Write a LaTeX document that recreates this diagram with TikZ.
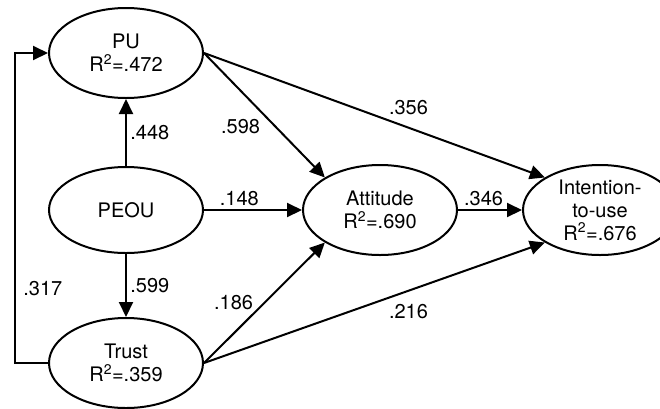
\documentclass[tikz,border=0pt]{standalone}
\usepackage{fontspec}
\setmainfont{TeX Gyre Heros}
\usepackage{tikz}
\usetikzlibrary{shapes.geometric, positioning, arrows.meta}
\tikzset{
>={Triangle[length=15pt,width=14pt]}, % filled arrow heads
->, % makes the edges directed
construct/.style={ellipse, draw, align=center, inner sep=0pt, minimum width=154pt, minimum height=90pt}, % the latent variables
every node/.style={font=\fontsize{20}{23}\selectfont}, % text size
}

\begin{document}
\begin{tikzpicture}[x=1pt, y=-1pt, line width=2pt]
    \useasboundingbox (0,0) rectangle (660,408);
    \node[construct, minimum height=86pt] (peou) at (126,210) {PEOU};
    \node[construct, above=67pt of peou] (pu) {PU\\R\textsuperscript{2}=.472};
    \node[construct, below=63pt of peou] (trust) {Trust\\R\textsuperscript{2}=.359};
    \node[construct, right=98pt of peou] (att) {Attitude\\R\textsuperscript{2}=.690};
    \node[construct, right=64pt of att] (int) {Intention-\\to-use\\R\textsuperscript{2}=.676};
    \path (peou) edge node[right]{.448} (pu)
    (peou) edge node[right]{.599} (trust)
    (peou.east) edge node[pos=.36, above]{.148} (att.west)
    (pu.east) edge node[pos=.5, below left]{.598} (att.north west)
    (trust.east) edge node[pos=.5, left=7pt]{.186} (att.south west)
    (att.east) edge node[pos=.4, above]{.346} (int.west)
    (pu.east) edge node[pos=.6, above=9pt]{.356} (int.north west)
    (trust.east) edge node[pos=.6, below=9pt]{.216} (int.south west);
    \draw (trust.west) -- ++(-33,0) |- node[pos=.12, right=4pt]{.317} (pu.west);
\end{tikzpicture}
\end{document}
